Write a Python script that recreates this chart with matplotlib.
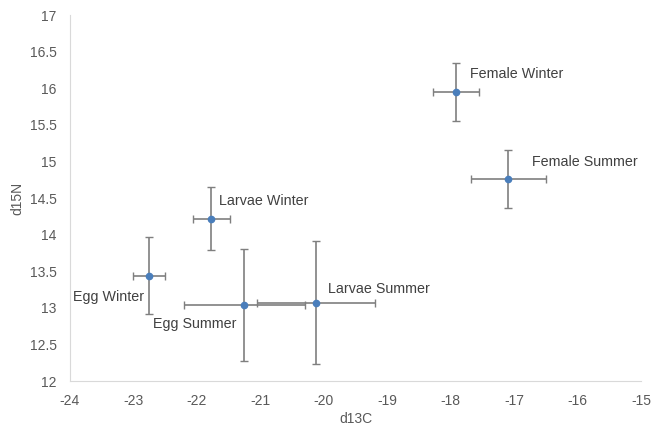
import matplotlib.pyplot as plt
import numpy as np

plt.rcParams['font.family'] = ['Liberation Sans', 'DejaVu Sans']
plt.rcParams['axes.unicode_minus'] = False

# group means and standard deviations
groups = ['Egg Winter', 'Larvae Winter', 'Egg Summer', 'Larvae Summer',
          'Female Winter', 'Female Summer']
d13c = np.array([-22.75, -21.77, -21.25, -20.12, -17.91, -17.09])
d15n = np.array([13.44, 14.22, 13.04, 13.07, 15.95, 14.76])
d13c_sd = np.array([0.25, 0.29, 0.96, 0.93, 0.36, 0.59])
d15n_sd = np.array([0.53, 0.43, 0.76, 0.84, 0.40, 0.40])

# label offsets in pixels, and horizontal alignment
offsets = [(-5, -21), (8, 18), (-8, -19), (12, 14), (14, 18), (24, 17)]
aligns = ['right', 'left', 'right', 'left', 'left', 'left']

fig = plt.figure(figsize=(6.51, 4.26), dpi=100)
ax = fig.add_axes([0.1075, 0.1056, 0.877, 0.859])

ax.errorbar(d13c, d15n, xerr=d13c_sd, yerr=d15n_sd, fmt='o',
            color='#4a7ebb', ms=4.5, ecolor='#7f7f7f', elinewidth=1.2,
            capsize=3, capthick=1, zorder=3)

for name, x, y, off, ha in zip(groups, d13c, d15n, offsets, aligns):
    ax.annotate(name, (x, y), xytext=off, textcoords='offset pixels',
                ha=ha, va='center', fontsize=10.3, color='#404040')

ax.set_xlim(-24, -15)
ax.set_ylim(12, 17)
ax.set_xticks(np.arange(-24, -14, 1))
ax.set_yticks(np.arange(12, 17.01, 0.5))
ax.set_yticklabels(['12', '12.5', '13', '13.5', '14', '14.5', '15',
                    '15.5', '16', '16.5', '17'])

for side in ['top', 'right']:
    ax.spines[side].set_visible(False)
ax.spines['left'].set_color('#d9d9d9')
ax.spines['bottom'].set_color('#d9d9d9')
ax.tick_params(axis='y', length=0, labelsize=10, labelcolor='#595959', pad=9.5)
ax.tick_params(axis='x', length=0, labelsize=10, labelcolor='#595959', pad=9)

ax.set_xlabel('d13C', fontsize=10, color='#595959', labelpad=3)
ax.set_ylabel('d15N', fontsize=10, color='#595959', labelpad=4)

fig.savefig('out.png', dpi=100)
